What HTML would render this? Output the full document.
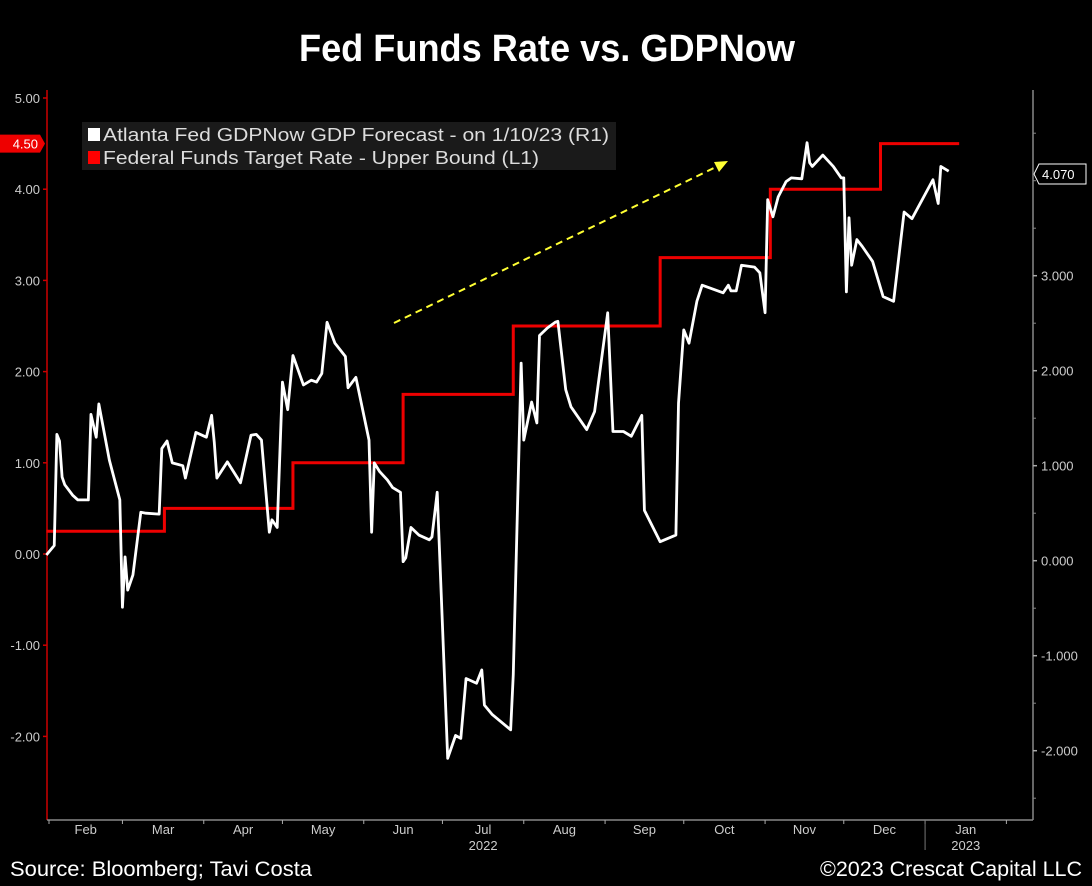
<!DOCTYPE html>
<html><head><meta charset="utf-8"><style>
html,body{margin:0;padding:0;background:#000;}
svg{display:block;}
</style></head><body>
<svg id="chart" width="1092" height="886" viewBox="0 0 1092 886" xmlns="http://www.w3.org/2000/svg" font-family="Liberation Sans, sans-serif">
<rect width="1092" height="886" fill="#000"/>
<text x="299" y="61" font-size="38" font-weight="bold" fill="#fff" textLength="496" lengthAdjust="spacingAndGlyphs">Fed Funds Rate vs. GDPNow</text>
<g id="axes"></g>
<g id="marks"></g>
<g>
<rect x="82" y="122" width="534" height="48" fill="#1a1a1a"/>
<rect x="88" y="128" width="12" height="13" fill="#fff"/>
<text x="103" y="141" font-size="18" fill="#ddd" textLength="506" lengthAdjust="spacingAndGlyphs">Atlanta Fed GDPNow GDP Forecast -  on 1/10/23  (R1)</text>
<rect x="88" y="151" width="12" height="13" fill="#f00"/>
<text x="103" y="164" font-size="18" fill="#ddd" textLength="436" lengthAdjust="spacingAndGlyphs">Federal Funds Target Rate - Upper Bound  (L1)</text>
</g>
<g>
<line x1="394" y1="323" x2="718" y2="166" stroke="#ffff33" stroke-width="2" stroke-dasharray="7,5"/>
<polygon points="728,161 714,162 719,172" fill="#ffff33"/>
</g>
<text x="10" y="876" font-size="21" fill="#fff" textLength="302" lengthAdjust="spacingAndGlyphs">Source: Bloomberg; Tavi Costa</text>
<text x="1082" y="876" font-size="21" fill="#fff" text-anchor="end" textLength="262" lengthAdjust="spacingAndGlyphs">©2023 Crescat Capital LLC</text>
</svg>
<script>
// Data: days since 2022-02-01
const gdpDays = [-1,2,3,4,5,6,9,11,15,16,18,19,23,27,28,29,30,32,35,37,42,43,45,47,51,52,56,60,62,63,64,68,73,77,79,81,84,85,87,89,91,93,97,100,102,104,106,109,113,114,117,122,123,124,126,129,131,134,135,136,138,141,145,146,148,152,155,157,159,163,165,166,169,176,177,180,181,184,186,187,190,193,194,197,199,205,208,213,215,219,222,226,227,233,239,240,242,244,247,249,254,257,259,260,262,264,269,271,273,274,276,278,281,283,287,289,290,291,295,299,302,303,304,305,306,308,310,314,318,322,326,329,337,339,340,343];
const gdpValues = [0.06,0.16,1.33,1.26,0.88,0.80,0.69,0.64,0.64,1.54,1.30,1.65,1.06,0.64,-0.49,0.04,-0.31,-0.15,0.51,0.50,0.49,1.18,1.26,1.03,1.00,0.87,1.35,1.30,1.53,1.25,0.87,1.04,0.82,1.32,1.33,1.27,0.30,0.43,0.35,1.88,1.59,2.16,1.85,1.90,1.88,1.97,2.51,2.29,2.15,1.82,1.93,1.27,0.30,1.03,0.94,0.85,0.77,0.72,-0.01,0.03,0.35,0.27,0.22,0.25,0.72,-2.08,-1.84,-1.87,-1.24,-1.29,-1.15,-1.52,-1.62,-1.78,-1.20,2.08,1.27,1.67,1.45,2.37,2.45,2.51,2.52,1.80,1.62,1.38,1.57,2.61,1.36,1.36,1.31,1.53,0.53,0.20,0.27,1.66,2.43,2.29,2.73,2.90,2.85,2.82,2.90,2.84,2.84,3.11,3.09,3.03,2.61,3.80,3.62,3.83,3.99,4.03,4.02,4.40,4.19,4.15,4.27,4.15,4.03,4.03,2.83,3.61,3.11,3.38,3.31,3.15,2.78,2.73,3.67,3.60,4.01,3.76,4.15,4.10];
const fedDays = [-1,44,93,135,177,233,275,317,347];
const fedValues = [0.25,0.50,1.00,1.75,2.50,3.25,4.00,4.50,4.50];
const leftTicks = [5,4,3,2,1,0,-1,-2];
const leftTickLabels = ["5.00","4.00","3.00","2.00","1.00","0.00","-1.00","-2.00"];
const rightTicks = [3,2,1,0,-1,-2];
const rightTickLabels = ["3.000","2.000","1.000","0.000","-1.000","-2.000"];
const rightMinor = [4.5,4,3.5,2.5,1.5,0.5,-0.5,-1.5,-2.5];
const monthStartDays = [0,28,59,89,120,150,181,212,242,273,303,334,365];
const monthLabels = ["Feb","Mar","Apr","May","Jun","Jul","Aug","Sep","Oct","Nov","Dec","Jan"];
const lastGdpLabel = "4.070";
const lastFedLabel = "4.50";

const NS="http://www.w3.org/2000/svg";
const X0=47,X1=1033,YB=820,YT=90;
const xDay=d=>49+d*2.623;
const yL=v=>554-v*91.2;
const yR=v=>560.7-v*95;
function mk(tag,attrs,parent,txt){const e=document.createElementNS(NS,tag);for(const k in attrs)e.setAttribute(k,attrs[k]);if(txt!==undefined)e.textContent=txt;parent.appendChild(e);return e;}
const axes=document.getElementById('axes'), marks=document.getElementById('marks');

// axis lines
let e=mk('line',{x1:X0,y1:YT,x2:X0,y2:YB,stroke:'#c00','stroke-width':1.5},axes);


e=mk('line',{x1:X1,y1:YT,x2:X1,y2:YB,stroke:'#888','stroke-width':1.5},axes);


e=mk('line',{x1:X0,y1:YB,x2:X1,y2:YB,stroke:'#888','stroke-width':1.5},axes);



leftTicks.forEach((v,i)=>{
  const t=mk('line',{x1:X0-4,y1:yL(v),x2:X0,y2:yL(v),stroke:'#c00','stroke-width':1.5},axes);
  
  
  const l=mk('text',{x:40,y:yL(v)+5,'font-size':13,fill:'#ccc','text-anchor':'end'},axes,leftTickLabels[i]);
  
  
});
rightTicks.forEach((v,i)=>{
  const t=mk('line',{x1:X1,y1:yR(v),x2:X1+4,y2:yR(v),stroke:'#aaa','stroke-width':1.5},axes);
  
  
  const l=mk('text',{x:X1+8,y:yR(v)+5,'font-size':13,fill:'#ccc'},axes,rightTickLabels[i]);
  
  
});
rightMinor.forEach(v=>{
  const t=mk('line',{x1:X1,y1:yR(v),x2:X1+3,y2:yR(v),stroke:'#888','stroke-width':1},axes);
  
  
});
monthStartDays.forEach((d,i)=>{
  const t=mk('line',{x1:xDay(d),y1:YB,x2:xDay(d),y2:YB+4,stroke:'#aaa','stroke-width':1},axes);
  
  
  if(i<monthLabels.length){
    const mx=(xDay(d)+xDay(monthStartDays[i+1]))/2;
    const l=mk('text',{x:mx,y:YB+14,'font-size':13,fill:'#ccc','text-anchor':'middle'},axes,monthLabels[i]);
    
    
  }
});
e=mk('text',{x:(xDay(150)+xDay(181))/2,y:YB+30,'font-size':13,fill:'#ccc','text-anchor':'middle'},axes,'2022');


e=mk('text',{x:(xDay(334)+xDay(365))/2,y:YB+30,'font-size':13,fill:'#ccc','text-anchor':'middle'},axes,'2023');


e=mk('line',{x1:xDay(334),y1:YB,x2:xDay(334),y2:YB+30,stroke:'#777','stroke-width':1},axes);



// Fed funds step line (left axis)
let pts=[];
fedDays.forEach((d,i)=>{
  if(i>0) pts.push([xDay(d),yL(fedValues[i-1])]);
  pts.push([xDay(d),yL(fedValues[i])]);
});
e=mk('polyline',{points:pts.map(p=>p.join(',')).join(' '),fill:'none',stroke:'#e00','stroke-width':3,'stroke-linejoin':'miter'},marks);



// GDPNow line (right axis)
pts=gdpDays.map((d,i)=>[xDay(d),yR(gdpValues[i])]);
e=mk('polyline',{points:pts.map(p=>p.join(',')).join(' '),fill:'none',stroke:'#fff','stroke-width':2.8,'stroke-linejoin':'round'},marks);



// last value labels
const yf=yL(fedValues[fedValues.length-1]);
e=mk('polygon',{points:`0,${yf-9} 40,${yf-9} 45,${yf} 40,${yf+9} 0,${yf+9}`,fill:'#e00'},axes);


e=mk('text',{x:38,y:yf+5,'font-size':13,fill:'#fff','text-anchor':'end'},axes,lastFedLabel);


const yg=yR(parseFloat(lastGdpLabel));
e=mk('polygon',{points:`1034,${yg} 1039,${yg-10} 1086,${yg-10} 1086,${yg+10} 1039,${yg+10}`,fill:'#000',stroke:'#fff','stroke-width':1},axes);


e=mk('text',{x:1042,y:yg+5,'font-size':13,fill:'#fff'},axes,lastGdpLabel);


</script>
</body></html>
